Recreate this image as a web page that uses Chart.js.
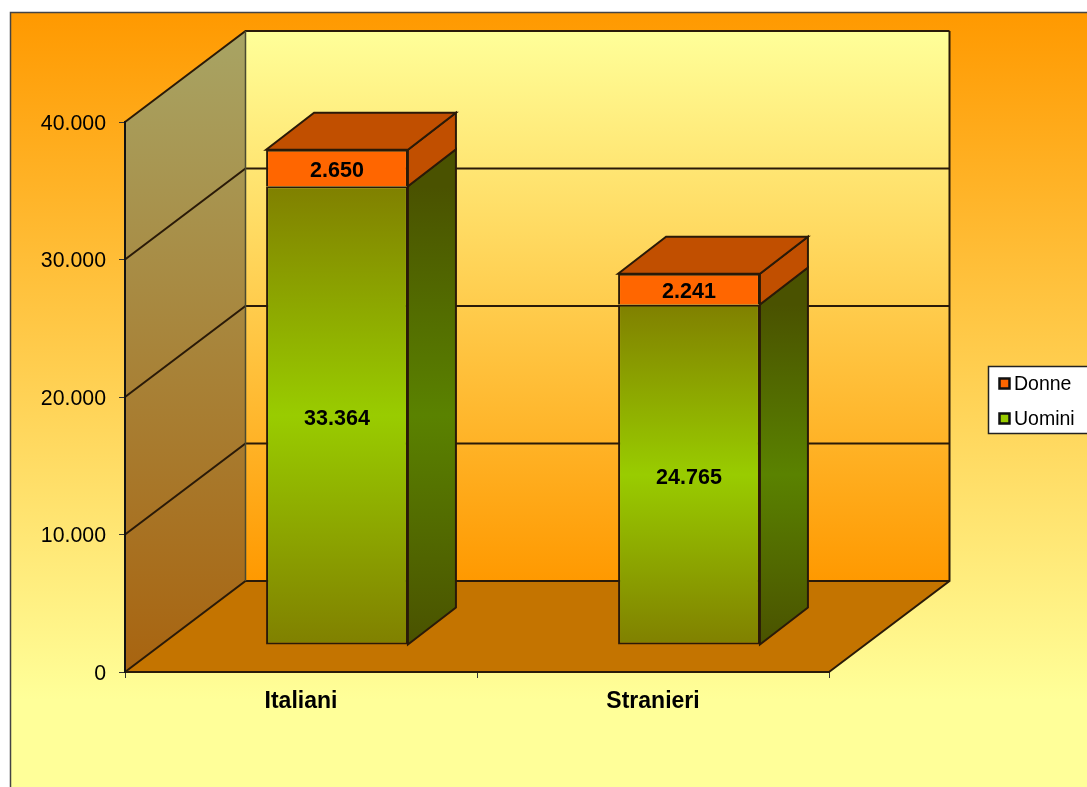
<!DOCTYPE html>
<html>
<head>
<meta charset="utf-8">
<title>Italiani e Stranieri</title>
<script src="https://cdn.jsdelivr.net/npm/chart.js@4/dist/chart.umd.min.js"></script>
<style>
	body { margin: 0; background: #fff; overflow: hidden; }
	canvas { display: block; }
</style>
</head>
<body>
<canvas id="mycanvas" width="1087" height="787"></canvas>
<script>
var categories = ['Italiani', 'Stranieri'];
var uomini = [33364, 24765];
var donne = [2650, 2241];
var yTickLabels = ['0', '10.000', '20.000', '30.000', '40.000'];

var FONT = '"Liberation Sans", Arial, sans-serif';
var LINE = '#2a1a08';

function dotted(v) {
	return String(v).replace(/\B(?=(\d{3})+$)/g, '.');
}

function vGrad(ctx, y0, y1, stops) {
	var g = ctx.createLinearGradient(0, y0, 0, y1);
	for (var i = 0; i < stops.length; i++) {
		g.addColorStop(stops[i][0], stops[i][1]);
	}
	return g;
}

function poly(ctx, pts, fill, stroke, width) {
	ctx.beginPath();
	ctx.moveTo(pts[0][0], pts[0][1]);
	for (var i = 1; i < pts.length; i++) {
		ctx.lineTo(pts[i][0], pts[i][1]);
	}
	ctx.closePath();
	if (fill) {
		ctx.fillStyle = fill;
		ctx.fill();
	}
	if (stroke) {
		ctx.strokeStyle = stroke;
		ctx.lineWidth = width || 2;
		ctx.stroke();
	}
}

// back wall, side wall and floor behind the bars
var wallsPlugin = {
	id: 'walls',
	beforeDraw: function(chart) {
		var ctx = chart.ctx;
		var area = chart.chartArea;
		var y = chart.scales.y;
		var wallX = 120.5, wallY = -91;

		ctx.save();
		ctx.fillStyle = '#fff';
		ctx.fillRect(0, 0, chart.width, chart.height);
		ctx.fillStyle = vGrad(ctx, 12, 700, [[0, '#FF9900'], [1, '#FFFF99']]);
		ctx.fillRect(10, 12, chart.width - 10, chart.height - 12);
		ctx.strokeStyle = '#444';
		ctx.lineWidth = 1.5;
		ctx.beginPath();
		ctx.moveTo(10.5, chart.height);
		ctx.lineTo(10.5, 12.5);
		ctx.lineTo(chart.width, 12.5);
		ctx.stroke();

		var l = area.left, r = area.right, t = area.top, b = area.bottom;
		poly(ctx, [[l + wallX, t + wallY], [r + wallX, t + wallY], [r + wallX, b + wallY], [l + wallX, b + wallY]],
			vGrad(ctx, t + wallY, b + wallY, [[0, '#FFFF99'], [1, '#FF9900']]), null);
		poly(ctx, [[l, t], [l + wallX, t + wallY], [l + wallX, b + wallY], [l, b]],
			vGrad(ctx, t + wallY, b, [[0, '#A8A464'], [1, '#A86410']]), null);
		poly(ctx, [[l, b], [r, b], [r + wallX, b + wallY], [l + wallX, b + wallY]], '#C47400', null);

		// grid lines run along the side wall and across the back wall
		ctx.strokeStyle = LINE;
		ctx.lineWidth = 2;
		y.ticks.forEach(function(tick) {
			var py = y.getPixelForValue(tick.value);
			ctx.beginPath();
			ctx.moveTo(l, py);
			ctx.lineTo(l + wallX, py + wallY);
			ctx.lineTo(r + wallX, py + wallY);
			ctx.stroke();
		});
		ctx.beginPath();
		ctx.moveTo(r, b);
		ctx.lineTo(r + wallX, b + wallY);
		ctx.lineTo(r + wallX, t + wallY);
		ctx.stroke();
		ctx.strokeStyle = '#4a4a30';
		ctx.lineWidth = 1.5;
		ctx.beginPath();
		ctx.moveTo(l + wallX, t + wallY);
		ctx.lineTo(l + wallX, b + wallY);
		ctx.stroke();
		ctx.restore();
	}
};

// bars sit a bit inside the floor, their tops and sides are added here
var barsPlugin = {
	id: 'bars3d',
	beforeDatasetsDraw: function(chart) {
		var ctx = chart.ctx;
		var depthX = 48, depthY = -37;
		ctx.save();
		ctx.translate(36, -27);
		chart.data.datasets.forEach(function(ds, i) {
			chart.getDatasetMeta(i).data.forEach(function(bar) {
				var x = bar.x + bar.width / 2;
				var top = bar.y, base = bar.base;
				var side;
				if (i === 0) {
					side = vGrad(ctx, top, base, [[0, '#4A5200'], [0.5, '#5A8200'], [1, '#4A5200']]);
				} else {
					side = '#C14F00';
				}
				poly(ctx, [[x, top], [x + depthX, top + depthY], [x + depthX, base + depthY], [x, base]], side, LINE, 2);
				if (i === chart.data.datasets.length - 1) {
					var x0 = bar.x - bar.width / 2;
					poly(ctx, [[x0, top], [x0 + depthX, top + depthY], [x + depthX, top + depthY], [x, top]], '#C14F00', LINE, 2);
				}
			});
		});
	},
	afterDatasetsDraw: function(chart) {
		var ctx = chart.ctx;
		ctx.fillStyle = '#000';
		ctx.font = 'bold 21.5px ' + FONT;
		ctx.textAlign = 'center';
		ctx.textBaseline = 'middle';
		chart.data.datasets.forEach(function(ds, i) {
			chart.getDatasetMeta(i).data.forEach(function(bar, j) {
				ctx.fillText(dotted(ds.data[j]), bar.x, (bar.y + bar.base) / 2 + (i === 0 ? 3.5 : 3));
			});
		});
		ctx.restore();
	}
};

var legendPlugin = {
	id: 'sideLegend',
	afterDraw: function(chart) {
		var ctx = chart.ctx;
		var ds = chart.data.datasets;
		var swatch = ['#FF6600', '#99CC00'];
		var rows = [ds[1].label, ds[0].label];
		ctx.save();
		ctx.fillStyle = '#fff';
		ctx.fillRect(988, 366, 99, 67);
		ctx.strokeStyle = '#222';
		ctx.lineWidth = 1.5;
		ctx.strokeRect(988.5, 366.5, 100, 67);
		ctx.font = '19.5px ' + FONT;
		ctx.textBaseline = 'middle';
		ctx.textAlign = 'left';
		rows.forEach(function(label, i) {
			var cy = 383.5 + i * 35;
			ctx.fillStyle = swatch[i];
			ctx.fillRect(999.5, cy - 5, 10, 10);
			ctx.strokeStyle = '#111';
			ctx.lineWidth = 2.5;
			ctx.strokeRect(999.5, cy - 5, 10, 10);
			ctx.fillStyle = '#000';
			ctx.fillText(label, 1014, cy + 1);
		});
		ctx.restore();
	}
};

var chartdata = {
	labels: categories,
	datasets: [
		{
			label: 'Uomini',
			data: uomini,
			borderColor: LINE,
			borderWidth: 2,
			borderSkipped: false,
			backgroundColor: function(c) {
				var y = c.chart.scales.y;
				if (!y || c.dataIndex === undefined) return '#99CC00';
				var top = y.getPixelForValue(c.dataset.data[c.dataIndex]);
				var bottom = y.getPixelForValue(0);
				if (!isFinite(top) || !isFinite(bottom)) return '#99CC00';
				return vGrad(c.chart.ctx, top, bottom, [[0, '#808000'], [0.5, '#99CC00'], [1, '#808000']]);
			}
		},
		{
			label: 'Donne',
			data: donne,
			borderColor: LINE,
			borderWidth: 2,
			borderSkipped: 'start',
			backgroundColor: '#FF6600'
		}
	]
};

var ctx = document.getElementById('mycanvas');

var barGraph = new Chart(ctx, {
	type: 'bar',
	data: chartdata,
	plugins: [wallsPlugin, barsPlugin, legendPlugin],
	options: {
		responsive: false,
		animation: false,
		devicePixelRatio: 1,
		layout: { padding: { top: 122, right: 258, left: 0, bottom: 0 } },
		plugins: { legend: { display: false }, tooltip: { enabled: false } },
		datasets: { bar: { categoryPercentage: 1, barPercentage: 0.403, clip: false } },
		scales: {
			x: {
				stacked: true,
				afterFit: function(s) { s.height = 115; },
				border: { display: true, color: LINE, width: 2 },
				grid: { drawOnChartArea: false, drawTicks: true, tickLength: 6, color: '#333' },
				ticks: { color: '#000', padding: 10, font: { family: FONT, size: 23, weight: 'bold' }, maxRotation: 0 }
			},
			y: {
				stacked: true,
				min: 0,
				max: 40000,
				afterFit: function(s) { s.width = 125; },
				border: { display: true, color: '#111', width: 2 },
				grid: { drawOnChartArea: false, drawTicks: true, tickLength: 6, color: '#333' },
				ticks: {
					color: '#000',
					padding: 13,
					labelOffset: 2,
					stepSize: 10000,
					font: { family: FONT, size: 21.3 },
					callback: function(v, i) { return yTickLabels[i]; }
				}
			}
		}
	}
});
</script>
</body>
</html>
